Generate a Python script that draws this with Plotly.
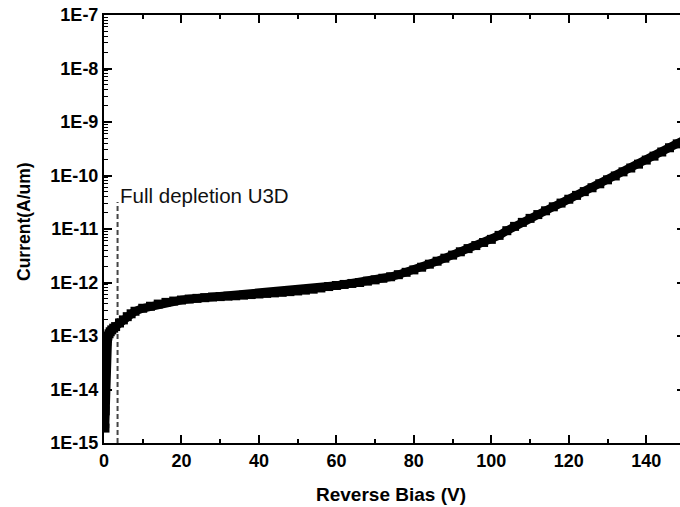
import plotly.graph_objects as go

# Reverse-bias leakage current of the diode (A/um) versus applied bias (V)
bias_v = [
    0.25, 0.3, 0.35, 0.4, 0.45, 0.5, 0.6, 0.7, 0.8, 0.9, 1.0, 1.3, 1.6, 2.0, 2.5, 3.0,
    4, 5, 6, 7, 8, 10, 12, 14, 16, 18, 20, 22, 24, 26, 28, 30, 32, 34, 36, 38, 40,
    42, 44, 46, 48, 50, 52, 54, 56, 58, 60, 62, 64, 66, 68, 70, 72, 74, 76, 78, 80,
    82, 84, 86, 88, 90, 92, 94, 96, 98, 100, 102, 104, 106, 108, 110, 112, 114, 116,
    118, 120, 122, 124, 126, 128, 130, 132, 134, 136, 138, 140, 142, 144, 146, 148, 150,
]
current_a_per_um = [
    1.9e-15, 4e-15, 9e-15, 1.8e-14, 3e-14, 4.5e-14, 6.5e-14, 8e-14, 9e-14, 9.6e-14,
    1.0e-13, 1.1e-13, 1.2e-13, 1.3e-13, 1.4e-13, 1.5e-13,
    1.75e-13, 2.0e-13, 2.3e-13, 2.6e-13, 2.9e-13, 3.3e-13, 3.6e-13, 3.95e-13, 4.25e-13,
    4.5e-13, 4.7e-13, 4.9e-13, 5.05e-13, 5.2e-13, 5.35e-13, 5.45e-13, 5.55e-13, 5.65e-13,
    5.8e-13, 5.95e-13, 6.1e-13, 6.25e-13, 6.4e-13, 6.55e-13, 6.75e-13, 6.95e-13, 7.2e-13,
    7.5e-13, 7.9e-13, 8.4e-13, 8.8e-13, 9.2e-13, 9.6e-13, 1.0e-12, 1.06e-12, 1.12e-12,
    1.2e-12, 1.28e-12, 1.4e-12, 1.55e-12, 1.72e-12, 1.93e-12, 2.2e-12, 2.5e-12, 2.85e-12,
    3.25e-12, 3.75e-12, 4.3e-12, 4.9e-12, 5.6e-12, 6.4e-12, 7.6e-12, 9.3e-12, 1.12e-11,
    1.33e-11, 1.58e-11, 1.86e-11, 2.19e-11, 2.6e-11, 3.05e-11, 3.6e-11, 4.25e-11, 5.0e-11,
    5.9e-11, 7.0e-11, 8.3e-11, 9.8e-11, 1.17e-10, 1.38e-10, 1.63e-10, 1.94e-10, 2.3e-10,
    2.75e-10, 3.3e-10, 3.9e-10, 4.7e-10,
]

# Full-depletion marker
depletion_bias_v = [3.5, 3.5]
depletion_line_current = [1e-15, 3.2e-11]
depletion_label = "Full depletion U3D"

# Axis ticks
x_tick_vals = [0, 20, 40, 60, 80, 100, 120, 140]
x_minor_vals = [10, 30, 50, 70, 90, 110, 130, 150]
y_tick_vals = [1e-15, 1e-14, 1e-13, 1e-12, 1e-11, 1e-10, 1e-9, 1e-8, 1e-7]
y_tick_text = ["1E-15", "1E-14", "1E-13", "1E-12", "1E-11", "1E-10", "1E-9", "1E-8", "1E-7"]
y_minor_vals = [k * 10.0 ** e for e in range(-15, -7) for k in range(2, 10)]

FONT = "Liberation Sans, Arial, Helvetica, sans-serif"
tick_font = dict(family=FONT, size=18, color="black", weight="bold")

fig = go.Figure()

fig.add_trace(go.Scatter(
    x=depletion_bias_v, y=depletion_line_current, mode="lines",
    line=dict(color="#444444", width=2, dash="5px,3px"),
    hoverinfo="skip",
))

# thick band of square symbols joined by a line of the same width
fig.add_trace(go.Scatter(
    x=bias_v, y=current_a_per_um, mode="lines+markers",
    line=dict(color="black", width=8.5),
    marker=dict(symbol="square", size=9, color="black", line=dict(width=0)),
))

fig.add_annotation(
    x=depletion_bias_v[0], y=-10.38, xref="x", yref="y",
    text=depletion_label, showarrow=False, xanchor="left", yanchor="middle",
    font=dict(family=FONT, size=20.5, color="#111111"),
)

fig.add_annotation(
    x=0.494, y=-0.120, xref="paper", yref="paper",
    text="Reverse Bias (V)", showarrow=False, xanchor="center", yanchor="middle",
    font=dict(family=FONT, size=19, color="black", weight="bold"),
)
fig.add_annotation(
    x=-0.1377, y=0.5187, xref="paper", yref="paper",
    text="Current(A/um)", textangle=-90, showarrow=False,
    xanchor="center", yanchor="middle",
    font=dict(family=FONT, size=17.5, color="black", weight="bold"),
)

fig.update_xaxes(
    range=[0, 150], tickmode="array", tickvals=x_tick_vals,
    ticks="inside", ticklen=8, tickwidth=2, tickcolor="black",
    showline=True, linewidth=2, linecolor="black", mirror="ticks",
    showgrid=False, zeroline=False, tickfont=tick_font,
    minor=dict(tickmode="array", tickvals=x_minor_vals, ticks="inside",
               ticklen=4, tickwidth=1.5, tickcolor="black", showgrid=False),
)
fig.update_yaxes(
    type="log", range=[-15, -7], tickmode="array",
    tickvals=y_tick_vals, ticktext=y_tick_text,
    ticks="inside", ticklen=8, tickwidth=2, tickcolor="black",
    showline=True, linewidth=2, linecolor="black", mirror="ticks",
    showgrid=False, zeroline=False, tickfont=tick_font,
    minor=dict(tickmode="array", tickvals=y_minor_vals, ticks="inside",
               ticklen=4, tickwidth=1, tickcolor="black", showgrid=False),
)

fig.update_layout(
    width=687, height=507,
    margin=dict(l=104, r=2, t=15, b=64, autoexpand=False),
    plot_bgcolor="white", paper_bgcolor="white",
    showlegend=False,
    font=dict(family=FONT, color="black"),
)

fig.write_html(
    "out.html",
    post_script="document.documentElement.style.overflow='hidden';"
                "document.body.style.overflow='hidden';document.body.style.margin='0';",
)
